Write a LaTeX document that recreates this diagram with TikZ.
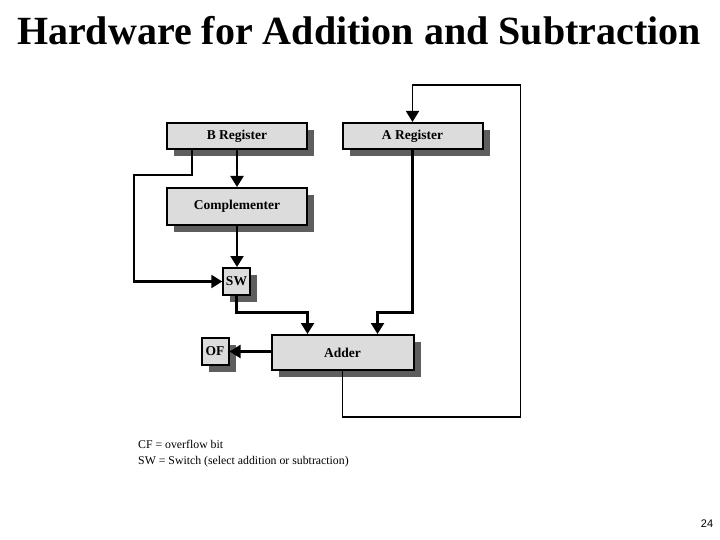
\documentclass[tikz,border=0pt]{standalone}
\usepackage{fontspec}
\setmainfont{Liberation Serif}
\setsansfont{Liberation Sans}
\usepackage{tikz}
\usetikzlibrary{arrows.meta, positioning, calc, shadows}
\usepackage{xcolor}
\definecolor{boxgray}{HTML}{DCDCDC}
\definecolor{shadowgray}{HTML}{5E5E5E}

\begin{document}
\begin{tikzpicture}[
  x=1pt, y=-1pt,
  >={Triangle[length=11pt, width=13pt]},
  % Hardware blocks
  hwbox/.style={
    rectangle, draw=black, line width=2pt,
    fill=boxgray, inner sep=0pt, align=center,
    font=\fontsize{13.5}{15}\selectfont\bfseries,
    drop shadow={shadow xshift=7pt, shadow yshift=-7pt,
      fill=shadowgray, opacity=1, draw=none}
  },
  % Arrow styles
  sigline/.style={line width=2.2pt, ->},
  loopline/.style={line width=1.6pt, ->}
]
\useasboundingbox (0,0) rectangle (720,540);

% === TITLE ===
\node[anchor=base, font=\fontsize{40}{48}\selectfont\bfseries] (title)
  at (359,45) {Hardware for Addition and Subtraction};

% === REGISTERS (TOP ROW) ===
\node[hwbox, minimum width=140pt, minimum height=26pt] (breg) at (237,136) {B Register};
\node[hwbox, minimum width=140pt, minimum height=26pt] (areg) at (412.5,136) {A Register};

% === DATA PATH ===
\node[hwbox, minimum width=140pt, minimum height=37pt] (comp) at (237,206.5) {Complementer};
\node[hwbox, minimum width=26.5pt, minimum height=27pt] (sw) at (236.5,281.5) {SW};
\node[hwbox, minimum width=142pt, minimum height=35pt] (adder) at (342.5,352.5) {Adder};
\node[hwbox, minimum width=27pt, minimum height=27pt] (of) at (215,351.5) {OF};

% === LEGEND ===
\node[anchor=north west, align=left, font=\fontsize{11.8}{16}\selectfont, inner sep=0pt] (legend)
  at (138,440) {CF = overflow bit\\SW = Switch (select addition or subtraction)};
\node[font=\sffamily\fontsize{11}{13}\selectfont] (page) at (707,524) {24};

% === CONNECTIONS ===
\draw[sigline] (breg.south) -- (breg.south |- comp.north);
\draw[sigline] ([xshift=-45pt]breg.south) -- ++(0,25) -- ++(-58,0) |- (sw.west);
\draw[sigline] (comp.south) -- (comp.south |- sw.north);
\draw[sigline] (sw.south) -- ++(0,16.5) -| ([xshift=-35pt]adder.north);
\draw[sigline] (areg.south) -- ++(0,162.5) -| ([xshift=35pt]adder.north);
\draw[sigline] (adder.west |- of.east) -- (of.east);

% === FEEDBACK LOOP ===
\draw[loopline] (adder.south) -- ++(0,46) -- ++(178,0) -- ++(0,-332) -| (areg.north);

\end{tikzpicture}
\end{document}
